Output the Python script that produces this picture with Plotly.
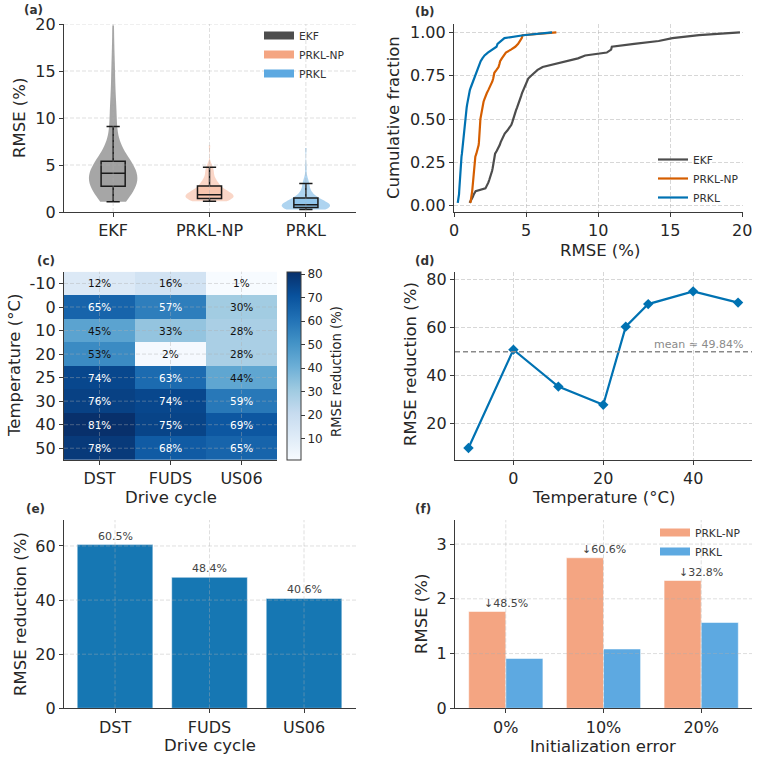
import numpy as np
import plotly.graph_objects as go
import plotly.express as px

# ---------------- data ----------------
methods = ["EKF", "PRKL-NP", "PRKL"]
patch_colors = ["#4D4D4D", "#F4A582", "#5DA9E1"]
violin_fill = ["rgba(77,77,77,0.5)", "rgba(244,165,130,0.45)", "rgba(93,169,225,0.5)"]
box_fill = ["rgba(77,77,77,0.08)", "rgba(244,165,130,0.35)", "rgba(93,169,225,0.35)"]
cdf_colors = ["#4D4D4D", "#D55E00", "#0072B2"]

rmse_ekf = [1.08, 1.22, 1.30, 1.38, 1.50, 2.18, 2.30, 2.38, 2.45, 2.53,
            2.60, 2.64, 2.68, 2.71, 2.73, 2.76, 2.78, 2.85, 2.97, 3.08,
            3.17, 3.24, 3.33, 3.40, 3.52, 3.70, 3.85, 3.98, 4.05, 4.10,
            4.15, 4.21, 4.30, 4.38, 4.46, 4.53, 4.60, 4.66, 4.72, 4.80,
            4.88, 4.95, 5.03, 5.15, 5.35, 5.55, 5.80, 6.15, 6.90, 7.80,
            8.60, 9.10, 10.60, 10.90, 10.95, 12.50, 14.20, 15.15, 17.00, 19.84]
rmse_prkl_np = [1.14, 1.18, 1.21, 1.24, 1.26, 1.28, 1.30, 1.32, 1.34, 1.36,
                1.38, 1.39, 1.40, 1.41, 1.42, 1.44, 1.48, 1.55, 1.62, 1.68,
                1.71, 1.73, 1.75, 1.77, 1.78, 1.79, 1.80, 1.81, 1.82, 1.83,
                1.86, 1.90, 1.94, 1.97, 2.00, 2.05, 2.12, 2.18, 2.28, 2.38,
                2.48, 2.58, 2.66, 2.72, 2.76, 2.80, 2.95, 3.09, 3.15, 3.20,
                3.32, 3.45, 3.60, 3.95, 4.25, 4.45, 4.60, 4.70, 4.76, 7.10]
rmse_prkl = [0.26, 0.30, 0.33, 0.35, 0.36, 0.37, 0.38, 0.39, 0.40, 0.41,
             0.42, 0.43, 0.44, 0.45, 0.46, 0.48, 0.52, 0.55, 0.57, 0.58,
             0.59, 0.60, 0.61, 0.63, 0.65, 0.67, 0.69, 0.71, 0.73, 0.75,
             0.78, 0.82, 0.85, 0.88, 0.91, 0.94, 0.97, 1.00, 1.04, 1.10,
             1.17, 1.24, 1.32, 1.40, 1.48, 1.56, 1.62, 1.68, 1.74, 1.85,
             1.97, 2.12, 2.35, 2.70, 2.95, 3.02, 3.25, 3.50, 4.80, 6.80]
rmse_samples = [rmse_ekf, rmse_prkl_np, rmse_prkl]

drive_cycles = ["DST", "FUDS", "US06"]
temperature_labels = ["-10", "0", "10", "20", "25", "30", "40", "50"]
temperatures = [-10, 0, 10, 20, 25, 30, 40, 50]
heat_reduction = [[12, 16, 1],
                  [65, 57, 30],
                  [45, 33, 28],
                  [53, 2, 28],
                  [74, 63, 44],
                  [76, 74, 59],
                  [81, 75, 69],
                  [78, 68, 65]]
temp_reduction = [9.7, 50.7, 35.3, 27.7, 60.3, 69.7, 75.0, 70.32]
cycle_reduction = [60.5, 48.4, 40.6]
init_errors = ["0%", "10%", "20%"]
init_rmse_np = [1.77, 2.75, 2.335]
init_rmse_prkl = [0.912, 1.084, 1.569]

# ---------------- helpers ----------------
W, H = 759, 762
FONT = "DejaVu Sans"
TXT = "#262626"
AX = "#3a3a3a"
GRID = "rgba(176,176,176,0.5)"


def fx(p):
    return p / W


def fy(p):
    return 1 - p / H


def axis(**kw):
    d = dict(showline=True, linecolor=AX, linewidth=1.3, ticks="outside", ticklen=4,
             tickwidth=1.2, tickcolor=AX, tickfont=dict(family=FONT, size=16, color=TXT),
             zeroline=False, showgrid=False, automargin=False, fixedrange=True,
             gridcolor=GRID, griddash="4px,2px", gridwidth=0.8)
    d.update(kw)
    return d


fig = go.Figure()

# ---------------- (a) violins + boxes ----------------
for name, s, vf, bf in zip(methods, rmse_samples, violin_fill, box_fill):
    arr = np.asarray(s)
    bw = arr.std(ddof=1) * len(arr) ** (-0.2)
    fig.add_trace(go.Violin(x=[name] * len(s), y=s, xaxis="x", yaxis="y", width=0.5,
                            scalemode="width", spanmode="hard", bandwidth=bw,
                            fillcolor=vf, line=dict(width=0, color=vf), points=False,
                            showlegend=False, hoverinfo="skip"))
    q1, med, q3 = np.percentile(arr, [25, 50, 75])
    iqr = q3 - q1
    lo = arr[arr >= q1 - 1.5 * iqr].min()
    hi = arr[arr <= q3 + 1.5 * iqr].max()
    fig.add_trace(go.Box(x=[name], q1=[q1], median=[med], q3=[q3], lowerfence=[lo], upperfence=[hi],
                         xaxis="x", yaxis="y", width=0.25, whiskerwidth=0.55, fillcolor=bf,
                         line=dict(color="#1a1a1a", width=1.5), boxpoints=False,
                         showlegend=False, hoverinfo="skip"))
for name, c in zip(methods, patch_colors):
    fig.add_trace(go.Scatter(x=[None], y=[None], xaxis="x", yaxis="y", mode="lines",
                             line=dict(color=c, width=8), name=name, legend="legend"))

# ---------------- (b) CDF ----------------
for name, s, c in zip(methods, rmse_samples, cdf_colors):
    xs = np.sort(np.asarray(s))
    ys = np.arange(1, len(xs) + 1) / len(xs)
    fig.add_trace(go.Scatter(x=xs, y=ys, xaxis="x2", yaxis="y2", mode="lines",
                             line=dict(color=c, width=2.2), name=name, legend="legend2"))

# ---------------- (c) heatmap ----------------
zvals = np.asarray(heat_reduction, dtype=float)
fig.add_trace(go.Heatmap(z=heat_reduction, x=drive_cycles, y=temperature_labels,
                         xaxis="x3", yaxis="y3", colorscale=px.colors.sequential.Blues,
                         zmin=zvals.min(), zmax=zvals.max(), showscale=True,
                         colorbar=dict(x=fx(287), xanchor="left", xpad=0, y=fy(365.8),
                                       yanchor="middle", ypad=0, len=188.3 / H, lenmode="fraction",
                                       thickness=14, thicknessmode="pixels", outlinewidth=1,
                                       outlinecolor=AX, ticks="outside", ticklen=4, tickcolor=AX,
                                       tickvals=[10, 20, 30, 40, 50, 60, 70, 80],
                                       tickfont=dict(family=FONT, size=12, color=TXT)),
                         hoverinfo="skip"))

# ---------------- (d) line ----------------
fig.add_trace(go.Scatter(x=temperatures, y=temp_reduction, xaxis="x4", yaxis="y4",
                         mode="lines+markers", line=dict(color="#0072B2", width=2.2),
                         marker=dict(symbol="diamond", size=8, color="#0072B2"),
                         showlegend=False))
mean_red = float(np.mean(temp_reduction))

# ---------------- (e) bars ----------------
fig.add_trace(go.Bar(x=drive_cycles, y=cycle_reduction, xaxis="x5", yaxis="y5", width=0.8,
                     marker=dict(color="#1677b3", line=dict(color="rgba(255,255,255,0.6)", width=0.8)),
                     showlegend=False))

# ---------------- (f) grouped bars ----------------
fig.add_trace(go.Bar(x=init_errors, y=init_rmse_np, xaxis="x6", yaxis="y6", width=0.38, offset=-0.38,
                     marker=dict(color=patch_colors[1], line=dict(color="rgba(255,255,255,0.7)", width=0.8)),
                     showlegend=False, name="PRKL-NP"))
fig.add_trace(go.Bar(x=init_errors, y=init_rmse_prkl, xaxis="x6", yaxis="y6", width=0.38, offset=0,
                     marker=dict(color=patch_colors[2], line=dict(color="rgba(255,255,255,0.7)", width=0.8)),
                     showlegend=False, name="PRKL"))
for name, c in zip(["PRKL-NP", "PRKL"], patch_colors[1:]):
    fig.add_trace(go.Scatter(x=[None], y=[None], xaxis="x6", yaxis="y6", mode="lines",
                             line=dict(color=c, width=8), name=name, legend="legend3"))

# ---------------- shapes (grid above patches) ----------------
shapes = []


def hgrid(yref, xref, vals):
    for v in vals:
        shapes.append(dict(type="line", xref=f"{xref} domain", yref=yref, x0=0, x1=1, y0=v, y1=v,
                           line=dict(color=GRID, width=0.8, dash="4px,2px"), layer="above"))


def vgrid(xref, yref, vals):
    for v in vals:
        shapes.append(dict(type="line", xref=xref, yref=f"{yref} domain", x0=v, x1=v, y0=0, y1=1,
                           line=dict(color=GRID, width=0.8, dash="4px,2px"), layer="above"))


hgrid("y", "x", [5, 10, 15, 20])
vgrid("x", "y", list(range(len(methods))))
hgrid("y3", "x3", list(range(len(temperature_labels))))
vgrid("x3", "y3", list(range(len(drive_cycles))))
hgrid("y5", "x5", [20, 40, 60])
vgrid("x5", "y5", list(range(len(drive_cycles))))
hgrid("y6", "x6", [1, 2, 3])
vgrid("x6", "y6", list(range(len(init_errors))))
shapes.append(dict(type="line", xref="x4 domain", yref="y4", x0=0, x1=1, y0=mean_red, y1=mean_red,
                   line=dict(color="#8a8a8a", width=1.4, dash="5px,3px"), layer="above"))

# ---------------- annotations ----------------
ann = []


def label(text, x, y, size=16.5, angle=0, color=TXT, bold=False, xanchor="center"):
    ann.append(dict(text=f"<b>{text}</b>" if bold else text, x=fx(x), y=fy(y), xref="paper", yref="paper",
                    xanchor=xanchor, yanchor="middle", showarrow=False, textangle=angle,
                    font=dict(family=FONT, size=size, color=color)))


# panel labels
for t, x, y in [("(a)", 22, 10), ("(b)", 413, 12), ("(c)", 35, 261), ("(d)", 413, 261),
                ("(e)", 24, 509), ("(f)", 413, 509)]:
    label(t, x, y, size=12, color="#333333", bold=True, xanchor="left")

# axis titles
label("RMSE (%)", 20, 118, angle=-90)
label("Cumulative fraction", 394, 118, angle=-90)
label("RMSE (%)", 600, 250)
label("Temperature (°C)", 14, 366, angle=-90)
label("Drive cycle", 171, 498)
label("RMSE reduction (%)", 336, 372, size=13.2, angle=-90)
label("RMSE reduction (%)", 410, 364, angle=-90)
label("Temperature (°C)", 603, 498)
label("RMSE reduction (%)", 20, 614, angle=-90)
label("Drive cycle", 210, 745)
label("RMSE (%)", 421, 614, angle=-90)
label("Initialization error", 603, 746)

# heatmap cell text (positions by category index)
for i, t in enumerate(temperature_labels):
    for j, c in enumerate(drive_cycles):
        v = heat_reduction[i][j]
        ann.append(dict(text=f"{v}%", x=j, y=i, xref="x3", yref="y3", showarrow=False,
                        font=dict(family=FONT, size=10.5, color="white" if v > 55 else "#111111")))

# mean text
ann.append(dict(text=f"mean ≈ {mean_red:.2f}%", x=0.976, y=mean_red, xref="x4 domain", yref="y4",
                xanchor="right", yanchor="bottom", showarrow=False, yshift=-1,
                font=dict(family=FONT, size=11, color="#8a8a8a")))

# bar labels (e)
for j, v in enumerate(cycle_reduction):
    ann.append(dict(text=f"{v:.1f}%", x=j, y=v, xref="x5", yref="y5", xanchor="center",
                    yanchor="bottom", showarrow=False, yshift=0,
                    font=dict(family=FONT, size=11, color="#444444")))

# reduction labels (f)
for j, (a, b) in enumerate(zip(init_rmse_np, init_rmse_prkl)):
    red = (a - b) / a * 100
    ann.append(dict(text=f"↓{red:.1f}%", x=j, y=a, xref="x6", yref="y6", xanchor="center",
                    yanchor="bottom", showarrow=False, yshift=-0.5,
                    font=dict(family=FONT, size=11, color="#444444")))

legend_style = dict(font=dict(family=FONT, size=10.7, color="#333333"), bgcolor="rgba(0,0,0,0)",
                    borderwidth=0, xanchor="left", yanchor="top", itemwidth=30, tracegroupgap=0)

fig.update_layout(
    width=W, height=H, margin=dict(l=0, r=0, t=0, b=0),
    paper_bgcolor="white", plot_bgcolor="white",
    font=dict(family=FONT, color=TXT),
    boxmode="overlay", violinmode="overlay", barmode="overlay",
    showlegend=True,
    legend=dict(x=fx(259), y=fy(21), **legend_style),
    legend2=dict(x=fx(653), y=fy(145), **legend_style),
    legend3=dict(x=fx(655), y=fy(518), **legend_style),
    xaxis=axis(domain=[fx(64), fx(356)], anchor="y", type="category",
               categoryorder="array", categoryarray=methods, range=[-0.51, 2.52]),
    yaxis=axis(domain=[fy(212), fy(24)], anchor="x", range=[0, 20], tickvals=[0, 5, 10, 15, 20]),
    xaxis2=axis(domain=[fx(454), fx(743)], anchor="y2", range=[0, 20.05],
                tickvals=[0, 5, 10, 15, 20], showgrid=True),
    yaxis2=axis(domain=[fy(212), fy(24)], anchor="x2", range=[-0.036, 1.048],
                tickvals=[0, 0.25, 0.5, 0.75, 1.0], tickformat=".2f", showgrid=True),
    xaxis3=axis(domain=[fx(64), fx(277)], anchor="y3", type="category",
                categoryorder="array", categoryarray=drive_cycles, range=[-0.5, 2.5]),
    yaxis3=axis(domain=[fy(460), fy(271.7)], anchor="x3", type="category",
                categoryorder="array", categoryarray=temperature_labels, range=[7.5, -0.5]),
    xaxis4=axis(domain=[fx(455), fx(752)], anchor="y4", range=[-13, 53.1],
                tickvals=[0, 20, 40], showgrid=True),
    yaxis4=axis(domain=[fy(460), fy(271.7)], anchor="x4", range=[4.7, 83.2],
                tickvals=[20, 40, 60, 80], showgrid=True),
    xaxis5=axis(domain=[fx(64), fx(356)], anchor="y5", type="category",
                categoryorder="array", categoryarray=drive_cycles, range=[-0.54, 2.55]),
    yaxis5=axis(domain=[fy(708.3), fy(520)], anchor="x5", range=[0, 69.6], tickvals=[0, 20, 40, 60]),
    xaxis6=axis(domain=[fx(455), fx(752)], anchor="y6", type="category",
                categoryorder="array", categoryarray=init_errors, range=[-0.52, 2.52]),
    yaxis6=axis(domain=[fy(708.3), fy(520)], anchor="x6", range=[0, 3.44], tickvals=[0, 1, 2, 3]),
    shapes=shapes,
    annotations=ann,
)

fig.write_html("out.html")
